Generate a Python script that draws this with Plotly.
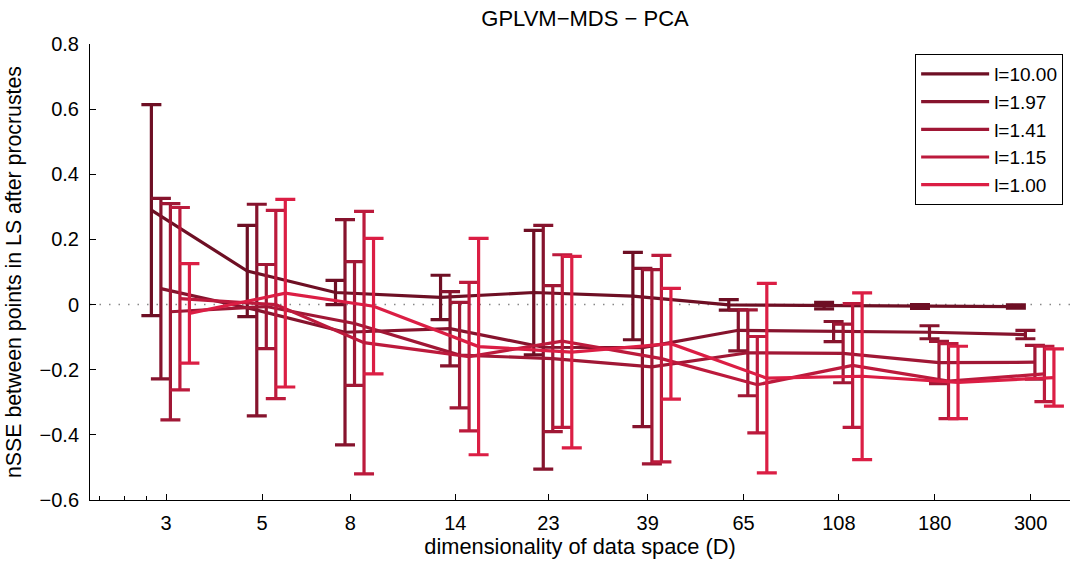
import numpy as np
import plotly.graph_objects as go

# ---- data ----
D = [3, 5, 8, 14, 23, 39, 65, 108, 180, 300]
tick_labels = ["3", "5", "8", "14", "23", "39", "65", "108", "180", "300"]
series_names = ["l=10.00", "l=1.97", "l=1.41", "l=1.15", "l=1.00"]

mean_l10 = [0.290, 0.103, 0.037, 0.022, 0.037, 0.026, -0.001, -0.003, -0.006, -0.006]
err_l10 = [0.324, 0.140, 0.037, 0.068, 0.191, 0.134, 0.016, 0.010, 0.006, 0.005]

mean_l197 = [0.049, -0.017, -0.085, -0.074, -0.131, -0.132, -0.079, -0.083, -0.085, -0.092]
err_l197 = [0.277, 0.325, 0.346, 0.114, 0.374, 0.243, 0.063, 0.031, 0.020, 0.013]

mean_l141 = [-0.022, -0.006, -0.058, -0.155, -0.166, -0.191, -0.148, -0.150, -0.178, -0.177]
err_l141 = [0.332, 0.129, 0.190, 0.162, 0.224, 0.298, 0.132, 0.090, 0.065, 0.052]

mean_l115 = [0.018, 0.000, -0.117, -0.160, -0.112, -0.166, -0.246, -0.187, -0.235, -0.213]
err_l115 = [0.280, 0.289, 0.403, 0.228, 0.265, 0.317, 0.148, 0.190, 0.115, 0.085]

mean_l100 = [-0.027, 0.035, -0.005, -0.129, -0.146, -0.120, -0.226, -0.220, -0.239, -0.224]
err_l100 = [0.153, 0.288, 0.208, 0.332, 0.294, 0.170, 0.291, 0.256, 0.111, 0.088]

means = [mean_l10, mean_l197, mean_l141, mean_l115, mean_l100]
errs = [err_l10, err_l197, err_l141, err_l115, err_l100]

# ---- style ----
colors = ["#6E0F24", "#86132D", "#A01735", "#BC1A3C", "#DB1E44"]
font_family = "Liberation Sans, Arial, Helvetica, sans-serif"

fig = go.Figure()

# zero reference line (dotted)
fig.add_hline(y=0, line=dict(color="#888888", width=1.5, dash="1.5px,8px"), layer="below")

for k in range(5):
    xs = np.array(D, dtype=float) * 10 ** ((k - 1.55) * 0.022)
    fig.add_trace(go.Scatter(
        x=xs, y=means[k], mode="lines", name=series_names[k],
        line=dict(color=colors[k], width=3.2),
        error_y=dict(type="data", array=errs[k], visible=True,
                     color=colors[k], thickness=3.2, width=10),
    ))

fig.update_layout(
    width=1078, height=561,
    margin=dict(l=90, r=8, t=44, b=61),
    paper_bgcolor="white", plot_bgcolor="white",
    font=dict(family=font_family, size=20, color="black"),
    title=dict(text="GPLVM\u2212MDS \u2212 PCA", x=0.5427, xanchor="center",
               y=0.967, yanchor="middle", font=dict(family=font_family, size=22, color="black")),
    showlegend=True,
    legend=dict(x=0.993, y=0.978, xanchor="right", yanchor="top",
                bordercolor="black", borderwidth=1, bgcolor="white",
                itemwidth=68, font=dict(family=font_family, size=19, color="black")),
)

fig.update_xaxes(
    type="log", range=[np.log10(2), np.log10(370)],
    tickvals=D, ticktext=tick_labels,
    ticks="inside", ticklen=6, tickcolor="black",
    ticklabelstandoff=5,
    showline=True, linecolor="black", linewidth=1,
    showgrid=False, zeroline=False, mirror=False,
    minor=dict(tickvals=[2.1, 2.4, 2.7], ticks="inside", ticklen=4, tickcolor="black"),
    title=dict(text="dimensionality of data space (D)", standoff=2,
               font=dict(family=font_family, size=21.8, color="black")),
)
fig.update_yaxes(
    range=[-0.6, 0.8], dtick=0.2, tick0=0,
    ticks="inside", ticklen=6, tickcolor="black",
    ticklabelstandoff=6,
    showline=True, linecolor="black", linewidth=1,
    showgrid=False, zeroline=False, mirror=False,
    title=dict(text="nSSE between points in LS after procrustes", standoff=12,
               font=dict(family=font_family, size=21.3, color="black")),
)

fig.write_html("out.html")
